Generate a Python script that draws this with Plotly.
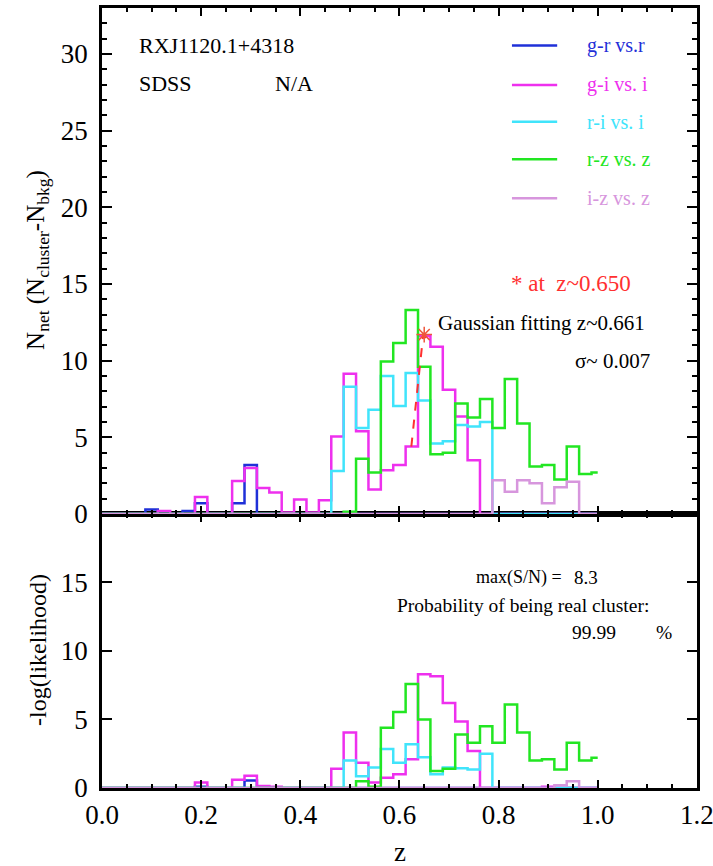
import plotly.graph_objects as go

# redshift grid (bin centres)
z_bins = [0.000, 0.025, 0.050, 0.075, 0.100, 0.125, 0.150, 0.175, 0.200, 0.225,
          0.250, 0.275, 0.300, 0.325, 0.350, 0.375, 0.400, 0.425, 0.450, 0.475,
          0.500, 0.525, 0.550, 0.575, 0.600, 0.625, 0.650, 0.675, 0.700, 0.725,
          0.750, 0.775, 0.800, 0.825, 0.850, 0.875, 0.900, 0.925, 0.950, 0.975,
          1.000]

# top panel: N_net
net_gr = [0, 0, 0, 0, 0.3, 0, 0, 0.2, 0.7, 0, 0, 0.7, 3.2, 0, 0, 0, 0, 0, 0, 0,
          0, 0, 0, 0, 0, 0, 0, 0, 0, 0, 0, 0, 0, 0, 0, 0, 0, 0, 0, 0, 0]
net_gi = [0, 0, 0, 0, 0, 0.2, 0, 0, 1.1, 0, 0, 2.15, 3.0, 1.7, 1.4, 0.1, 0.95, 0.1, 0.9, 5.05,
          9.15, 5.4, 1.6, 2.85, 3.2, 4.4, 11.6, 10.9, 8.1, 6.35, 3.5, 0, 0, 0, 0, 0, 0, 0, 0, 0, 0]
net_ri = [0, 0, 0, 0, 0, 0, 0, 0, 0, 0, 0, 0, 0, 0, 0, 0, 0, 0, 0, 2.8,
          8.3, 5.6, 6.8, 9.0, 7.05, 9.2, 7.4, 4.6, 4.75, 5.8, 5.7, 6.0, 0, 0, 0, 0, 0, 0, 0, 0, 0]
net_rz = [0, 0, 0, 0, 0, 0, 0, 0, 0, 0, 0, 0, 0, 0, 0, 0, 0, 0, 0, 0,
          0.15, 3.6, 2.7, 9.95, 11.15, 13.3, 9.6, 3.9, 4.0, 7.2, 6.3, 7.5, 5.6, 8.8, 5.9, 3.1, 3.2, 2.25, 4.4, 2.6, 2.7]
net_iz = [0, 0, 0, 0, 0, 0, 0, 0, 0, 0, 0, 0, 0, 0, 0, 0, 0, 0, 0, 0,
          0, 0, 0, 0, 0, 0, 0, 0, 0, 0, 0, 0, 2.2, 1.45, 2.2, 2.0, 0.7, 1.75, 2.1, 0, 0]

# bottom panel: -log(likelihood)
like_gr = [0, 0, 0, 0, 0, 0, 0, 0, 0.1, 0, 0, 0, 0.55, 0, 0, 0, 0, 0, 0, 0,
           0, 0, 0, 0, 0, 0, 0, 0, 0, 0, 0, 0, 0, 0, 0, 0, 0, 0, 0, 0, 0]
like_gi = [0, 0, 0, 0, 0, 0, 0, 0, 0.4, 0, 0, 0.6, 0.9, 0.15, 0.1, 0, 0, 0, 0, 1.4,
           4.05, 1.85, 0.4, 0.75, 1.0, 2.1, 8.3, 8.15, 6.2, 4.85, 2.7, 0, 0, 0, 0, 0, 0.1, 0, 0, 0, 0]
like_ri = [0, 0, 0, 0, 0, 0, 0, 0, 0, 0, 0, 0, 0, 0, 0, 0, 0, 0, 0, 0,
           2.0, 0.85, 1.5, 2.85, 1.85, 3.2, 2.25, 1.0, 1.5, 1.45, 1.35, 2.5, 0, 0, 0, 0, 0, 0, 0, 0, 0]
like_rz = [0, 0, 0, 0, 0, 0, 0, 0, 0, 0, 0, 0, 0, 0, 0, 0, 0, 0, 0, 0,
           0, 0.5, 0.1, 4.4, 5.55, 7.6, 5.0, 1.25, 1.4, 3.9, 3.3, 4.5, 3.3, 6.1, 4.05, 2.0, 2.1, 1.35, 3.3, 2.0, 2.2]
like_iz = [0, 0, 0, 0, 0, 0, 0, 0, 0, 0, 0, 0, 0, 0, 0, 0, 0, 0, 0, 0,
           0, 0, 0, 0, 0, 0, 0, 0, 0, 0, 0, 0, 0, 0, 0, 0, 0, 0.2, 0.5, 0, 0]

series_names = ["g-r vs.r", "g-i vs. i", "r-i vs. i", "r-z vs. z", "i-z vs. z"]
series_colors = ["#1f30d8", "#ee30ee", "#40e4fb", "#22e622", "#d796dd"]
net_series = [net_gr, net_gi, net_ri, net_rz, net_iz]
like_series = [like_gr, like_gi, like_ri, like_rz, like_iz]

# gaussian fit segment and peak marker
gauss_z = [0.624, 0.648, 0.662]
gauss_v = [4.4, 11.7, 11.0]
peak_z = [0.650]
peak_v = [11.7]

x_ticks = [0.0, 0.2, 0.4, 0.6, 0.8, 1.0, 1.2]
x_ticklabels = ["0.0", "0.2", "0.4", "0.6", "0.8", "1.0", "1.2"]

FONT = "Liberation Serif"

fig = go.Figure()
for name, col, vals in zip(series_names, series_colors, net_series):
    fig.add_trace(go.Scatter(x=z_bins, y=vals, mode="lines", line_shape="hvh",
                             line=dict(color=col, width=2.5), name=name,
                             xaxis="x2", yaxis="y2", showlegend=False))
for name, col, vals in zip(series_names, series_colors, like_series):
    fig.add_trace(go.Scatter(x=z_bins, y=vals, mode="lines", line_shape="hvh",
                             line=dict(color=col, width=2.5), name=name,
                             xaxis="x", yaxis="y", showlegend=False))

fig.add_trace(go.Scatter(x=gauss_z, y=gauss_v, mode="lines",
                         line=dict(color="#ff3030", width=2, dash="dash"),
                         xaxis="x2", yaxis="y2", showlegend=False))
fig.add_trace(go.Scatter(x=peak_z, y=peak_v, mode="markers",
                         marker=dict(symbol="asterisk-open", size=13,
                                     line=dict(color="#ff3030", width=1.5)),
                         xaxis="x2", yaxis="y2", showlegend=False))

split = 0.3513
axis_common = dict(showline=True, linewidth=2.5, linecolor="black", mirror="ticks",
                   ticks="inside", tickcolor="black", showgrid=False, zeroline=False,
                   automargin=False,
                   tickfont=dict(family=FONT, size=27, color="black"))

X_RANGE = [0, 1.2003]

fig.update_layout(
    width=713, height=866,
    margin=dict(l=102, r=16, t=8, b=78, autoexpand=False),
    paper_bgcolor="white", plot_bgcolor="white",
    showlegend=False,
    xaxis=dict(domain=[0, 1], anchor="y", range=X_RANGE, tickmode="array",
               tickvals=x_ticks, ticktext=x_ticklabels, ticklabeloverflow="allow",
               ticklen=8, tickwidth=2, ticklabelstandoff=1,
               minor=dict(tickmode="linear", tick0=0, dtick=0.05, ticks="inside",
                          ticklen=4, tickcolor="black", tickwidth=1.5),
               **axis_common),
    xaxis2=dict(domain=[0, 1], anchor="y2", range=X_RANGE, tickmode="array",
                tickvals=x_ticks, matches="x", showticklabels=False, ticklen=8, tickwidth=2,
                minor=dict(tickmode="linear", tick0=0, dtick=0.05, ticks="inside",
                           ticklen=4, tickcolor="black", tickwidth=1.5),
                **axis_common),
    yaxis=dict(domain=[0, split], anchor="x", range=[0, 20], tickvals=[0, 5, 10, 15],
               ticklen=10, tickwidth=2, ticklabelstandoff=6, **axis_common),
    yaxis2=dict(domain=[split, 1], anchor="x2", range=[0, 33], tick0=0, dtick=5,
                ticklen=10, tickwidth=2, ticklabelstandoff=6,
                minor=dict(dtick=1, ticks="inside", ticklen=5, tickcolor="black", tickwidth=1.5),
                **axis_common),
)

ann = []
def text(x, y, s, size, color="black", xanchor="left", xref="x domain", yref="y2 domain"):
    ann.append(dict(x=x, y=y, xref=xref, yref=yref, text=s, showarrow=False,
                    xanchor=xanchor, yanchor="middle",
                    font=dict(family=FONT, size=size, color=color)))

# top-left labels
text(0.058, 0.925, "RXJ1120.1+4318", 22)
text(0.058, 0.851, "SDSS", 22)
text(0.287, 0.851, "N/A", 22)

# legend
leg_y = [0.926, 0.848, 0.775, 0.701, 0.624]
shapes = []
for nm, col, yy in zip(series_names, series_colors, leg_y):
    shapes.append(dict(type="line", xref="x domain", yref="y2 domain",
                       x0=0.689, x1=0.765, y0=yy, y1=yy,
                       line=dict(color=col, width=2.5)))
    text(0.812, yy, nm, 20, color=col)

text(0.684, 0.455, "* at  z~0.650", 23, color="#ff3030")
text(0.561, 0.378, "Gaussian fitting z~0.661", 21)
text(0.924, 0.302, "σ~ 0.007", 21, xanchor="right")

# bottom panel texts
text(0.625, 0.768, "max(S/N) =", 18, yref="y domain")
text(0.790, 0.768, "8.3", 19, yref="y domain")
text(0.492, 0.666, "Probability of being real cluster:", 19.5, yref="y domain")
text(0.786, 0.568, "99.99", 19.5, yref="y domain")
text(0.927, 0.568, "%", 19.5, yref="y domain")

# axis titles
ann.append(dict(x=-0.1076, y=0.677, xref="paper", yref="paper", textangle=-90,
                text="N<sub>net</sub> (N<sub>cluster</sub>-N<sub>bkg</sub>)",
                showarrow=False, xanchor="center", yanchor="middle",
                font=dict(family=FONT, size=25, color="black")))
ann.append(dict(x=-0.1076, y=0.177, xref="paper", yref="paper", textangle=-90,
                text="-log(likelihood)", showarrow=False, xanchor="center", yanchor="middle",
                font=dict(family=FONT, size=24, color="black")))
ann.append(dict(x=0.5, y=-0.082, xref="paper", yref="paper", text="z",
                showarrow=False, xanchor="center", yanchor="middle",
                font=dict(family=FONT, size=27, color="black")))

fig.update_layout(annotations=ann, shapes=shapes)
fig.write_html("out.html")
